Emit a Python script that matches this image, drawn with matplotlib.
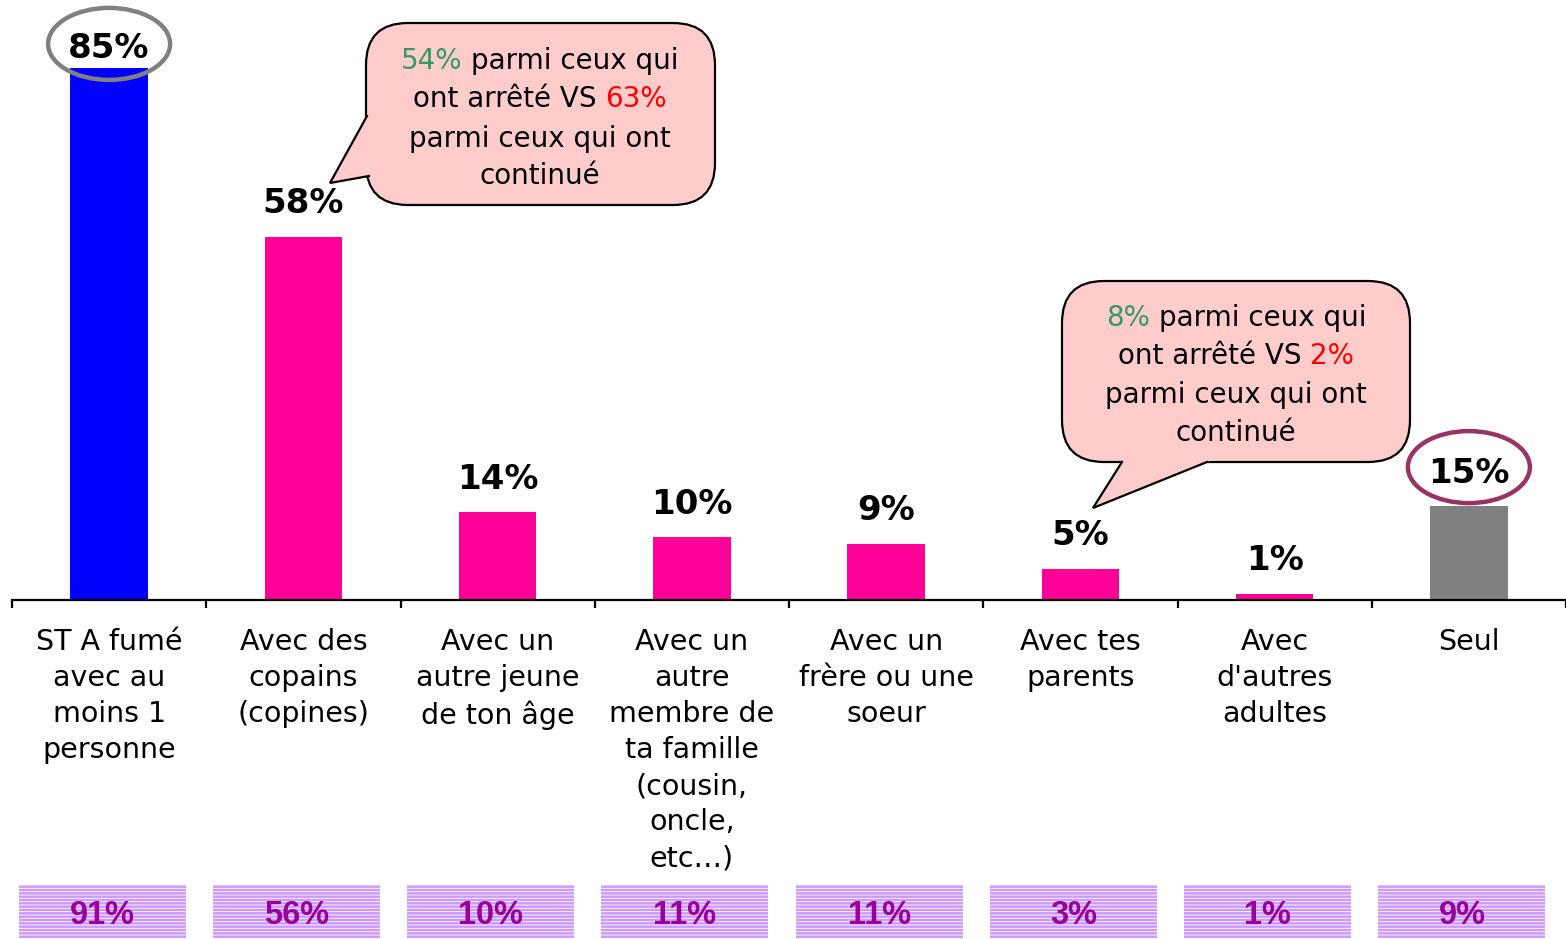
"""Avec qui as-tu fumé ? — histogramme + bulles de commentaire."""
import matplotlib

matplotlib.use("Agg")
import matplotlib.pyplot as plt
import numpy as np
from matplotlib.patches import Ellipse, FancyBboxPatch, Polygon, Rectangle

plt.rcParams["font.family"] = ["DejaVu Sans"]
plt.rcParams["hatch.linewidth"] = 0.6

# ===== données =====
categories = [
    "ST A fumé\navec au\nmoins 1\npersonne",
    "Avec des\ncopains\n(copines)",
    "Avec un\nautre jeune\nde ton âge",
    "Avec un\nautre\nmembre de\nta famille\n(cousin,\noncle,\netc…)",
    "Avec un\nfrère ou une\nsoeur",
    "Avec tes\nparents",
    "Avec\nd'autres\nadultes",
    "Seul",
]
values = [85, 58, 14, 10, 9, 5, 1, 15]
compare_values = [91, 56, 10, 11, 11, 3, 1, 9]
bar_colors = ["#0000FF"] + ["#FF0099"] * 6 + ["#808080"]

GREEN, RED, BLACK = "#339966", "#FF0000", "black"
callout1_lines = [
    [("54%", GREEN), (" parmi ceux qui", BLACK)],
    [("ont arrêté VS ", BLACK), ("63%", RED)],
    [("parmi ceux qui ont", BLACK)],
    [("continué", BLACK)],
]
callout2_lines = [
    [("8%", GREEN), (" parmi ceux qui", BLACK)],
    [("ont arrêté VS ", BLACK), ("2%", RED)],
    [("parmi ceux qui ont", BLACK)],
    [("continué", BLACK)],
]

W, H = 1566, 939
fig = plt.figure(figsize=(W / 100, H / 100), dpi=100)

# axe principal
base_y = 600
px_per_unit = 6.26
ax = fig.add_axes([12 / W, (H - base_y) / H, (W - 12) / W, base_y / H])
x = np.arange(len(values))
ax.bar(x, values, width=0.4, color=bar_colors, zorder=2)
ax.set_xlim(-0.5, len(values) - 0.5)
ax.set_ylim(0, base_y / px_per_unit)
for s in ["top", "right", "left"]:
    ax.spines[s].set_visible(False)
ax.spines["bottom"].set_linewidth(1.6)
ax.set_yticks([])
ax.set_xticks(x)
ax.set_xticklabels(categories, fontsize=20.5, linespacing=1.37)
ax.tick_params(axis="x", which="major", length=0, pad=20)
ax.set_xticks(np.arange(-0.5, len(values)), minor=True)
ax.tick_params(axis="x", which="minor", direction="out", length=6, width=1.6)
ax.patch.set_visible(False)

for i, v in enumerate(values):
    off = 19 if i == 0 else 33
    ax.annotate(f"{v}%", (i, v), xytext=(0, off), textcoords="offset pixels",
                ha="center", va="center", fontsize=24.5, fontweight="bold",
                annotation_clip=False)

# calque en pixels pour les décorations
ov = fig.add_axes([0, 0, 1, 1])
ov.set_xlim(0, W)
ov.set_ylim(H, 0)
ov.axis("off")


def to_px(xd, yd):
    px, py = ax.transData.transform((xd, yd))
    return px, H - py


# ellipses autour du total et de "Seul"
for i, color, off in [(0, "#808080", 24), (7, "#993366", 39)]:
    cx, cy = to_px(i, values[i])
    ov.add_patch(Ellipse((cx, cy - off), 122, 72, fill=False, edgecolor=color, lw=3.2))

# ligne de comparaison en bas
cat_w = ax.transData.transform((1, 0))[0] - ax.transData.transform((0, 0))[0]
for i, v in enumerate(compare_values):
    cx, _ = to_px(i, 0)
    cx -= 7
    bw = cat_w * 0.86
    ov.add_patch(Rectangle((cx - bw / 2, 885), bw, 53, facecolor="#CC99FF",
                           edgecolor="white", lw=0, hatch="-----"))
    ov.text(cx, 916, f"{v}%", ha="center", va="center", fontsize=23.5,
            fontweight="bold", color="#990099", family="Liberation Sans")

renderer = fig.canvas.get_renderer()


def _line(cx, cy, segments, size=20):
    full = "".join(t for t, _ in segments)
    if len(segments) == 1:
        ov.text(cx, cy, full, ha="center", va="center", fontsize=size, color=segments[0][1])
        return
    tmp = ov.text(cx, cy, full, ha="center", va="center", fontsize=size)
    bb = tmp.get_window_extent(renderer)
    tmp.remove()
    left = cx - bb.width / 2
    right = cx + bb.width / 2
    (t1, c1), (t2, c2) = segments
    ov.text(left, cy, t1.rstrip(), ha="left", va="center", fontsize=size, color=c1)
    ov.text(right, cy, t2.lstrip(), ha="right", va="center", fontsize=size, color=c2)


def _callout(x0, y0, x1, y1, base1, tip, base2, lines, cx, ys):
    ov.add_patch(FancyBboxPatch((x0, y0), x1 - x0, y1 - y0,
                                boxstyle="round,pad=0,rounding_size=42",
                                facecolor="#FFCCCC", edgecolor="black", lw=1.6, zorder=3))
    b1, t, b2 = np.array(base1), np.array(tip), np.array(base2)
    poly = [b1 + (b1 - t) * 0.2, t, b2 + (b2 - t) * 0.2]
    ov.add_patch(Polygon(poly, closed=True, facecolor="#FFCCCC", edgecolor="none", zorder=4))
    ov.plot([b1[0], t[0], b2[0]], [b1[1], t[1], b2[1]], color="black", lw=1.6,
            zorder=5, solid_joinstyle="miter")
    for segs, y in zip(lines, ys):
        _line(cx, y, segs)


_callout(366, 23, 715, 205, (367, 116), (330, 183), (369, 176),
         callout1_lines, 540, [61, 99, 139, 176])
_callout(1062, 281, 1410, 462, (1122, 462), (1093, 508), (1207, 462),
         callout2_lines, 1236, [318, 356, 395, 433])

fig.savefig("out.png", dpi=100)
